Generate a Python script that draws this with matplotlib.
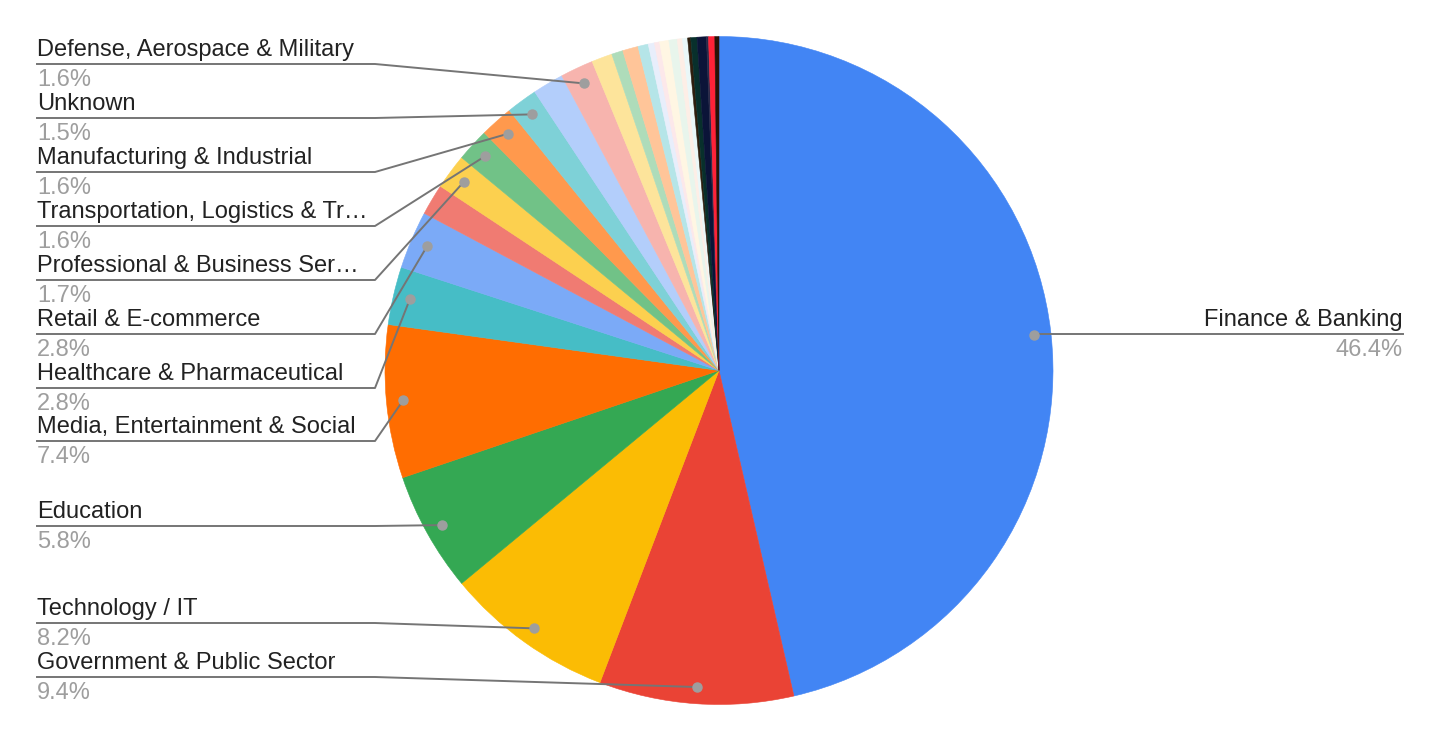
#!/usr/bin/env python3
# Industry breakdown pie, Google-Sheets style with leader lines

import numpy as np
import matplotlib.pyplot as plt

W, H = 1440, 742

# ------------------------- data -------------------------
# slices in clockwise order from 12 o'clock
shares = [46.4, 9.4, 8.2, 5.8, 7.4, 2.8, 2.8, 1.5, 1.7, 1.6, 1.6, 1.5, 1.5, 1.6,
          1.0, 0.55, 0.75, 0.5, 0.3, 0.25, 0.45, 0.4, 0.25, 0.25,
          0.15, 0.3, 0.45, 0.1, 0.3, 0.2]
names = ["Finance & Banking", "Government & Public Sector", "Technology / IT", "Education",
         "Media, Entertainment & Social", "Healthcare & Pharmaceutical", "Retail & E-commerce",
         None, "Professional & Business Ser…", "Transportation, Logistics & Tr…",
         "Manufacturing & Industrial", "Unknown", None, "Defense, Aerospace & Military"] + [None] * 16
pct_labels = ["46.4%", "9.4%", "8.2%", "5.8%", "7.4%", "2.8%", "2.8%", None, "1.7%", "1.6%",
              "1.6%", "1.5%", None, "1.6%"] + [None] * 16
colors = ["#4285F4", "#EA4335", "#FBBC04", "#34A853", "#FF6D01", "#46BDC6", "#7BAAF7",
          "#F07B72", "#FCD04F", "#71C287", "#FF994D", "#7ED1D7", "#B3CEFB", "#F7B4AE",
          "#FDE49B", "#AEDCBA", "#FFC599", "#B5E5E8", "#E8EEFB", "#FCE8EA", "#FFF6E3",
          "#E8F5EC", "#FDEEE6", "#EAF7F8", "#2E1E0E", "#08302C", "#0B1438", "#2A2A48",
          "#FF2238", "#2A1206"]

# underline y (image px) for each labelled slice
label_rows = {0: 334, 1: 677, 2: 623, 3: 526, 4: 441, 5: 388, 6: 334,
              8: 280, 9: 226, 10: 172, 11: 118, 13: 64}

# ------------------------- drawing -------------------------
plt.rcParams['font.family'] = ['Liberation Sans', 'DejaVu Sans']

fig = plt.figure(figsize=(W / 100, H / 100), dpi=100)
ax = fig.add_axes([0, 0, 1, 1])

cx, cy, r = 719, H - 370.5, 334
wedges, _ = ax.pie(shares, colors=colors, startangle=90, counterclock=False,
                   radius=r, center=(cx, cy),
                   wedgeprops=dict(linewidth=0.4, edgecolor=None))
for w, c in zip(wedges, colors):
    w.set_edgecolor(c)

ax.set_xlim(0, W)
ax.set_ylim(0, H)
ax.set_aspect('equal')
ax.axis('off')

line_col = "#757575"
dot_col = "#9E9E9E"
left_x, kink_x = 37, 375
fs = 17

for i, row in label_rows.items():
    w = wedges[i]
    mid = np.deg2rad((w.theta1 + w.theta2) / 2)
    dx = cx + 0.95 * r * np.cos(mid)
    dy = cy + 0.95 * r * np.sin(mid)
    uy = H - row
    if i == 0:
        # right-hand label
        ax.plot([dx, 1403], [uy, uy], color=line_col, lw=1.4, zorder=3)
        ax.plot([dx], [dy], 'o', color=dot_col, ms=6.5, zorder=4)
        ax.text(1403, uy + 8, names[i], ha='right', va='baseline', fontsize=fs, color="#222222")
        ax.text(1403, uy - 22, pct_labels[i], ha='right', va='baseline', fontsize=fs, color="#9E9E9E")
    else:
        ax.plot([left_x, kink_x, dx], [uy, uy, dy], color=line_col, lw=1.4, zorder=3)
        ax.plot([dx], [dy], 'o', color=dot_col, ms=6.5, zorder=4)
        ax.text(left_x, uy + 8, names[i], ha='left', va='baseline', fontsize=fs, color="#222222")
        ax.text(left_x, uy - 22, pct_labels[i], ha='left', va='baseline', fontsize=fs, color="#9E9E9E")

fig.savefig("out.png", dpi=100, facecolor="white")
